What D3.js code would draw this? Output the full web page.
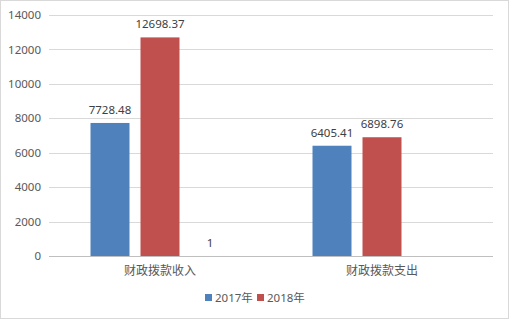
<!DOCTYPE html>
<html>
<head>
<meta charset="utf-8">
<script src="https://cdn.jsdelivr.net/npm/d3@7"></script>
<style>
  body { margin: 0; background: #fff; }
  svg { display: block; }
</style>
</head>
<body>
<script>
const categories = ['财政拨款收入', '财政拨款支出'];
const seriesNames = ['2017年', '2018年', ''];
const values2017 = [7728.48, 6405.41];
const values2018 = [12698.37, 6898.76];
const valuesExtra = [1, null]; // stray series without legend entry
const yTicks = [0, 2000, 4000, 6000, 8000, 10000, 12000, 14000];

const WIDTH = 509;
const HEIGHT = 319;
const FONT = '"Noto Sans", "Noto Sans CJK SC", sans-serif';
const colors = ['#4F81BD', '#C0504D', '#9BBB59'];

const allSeries = [values2017, values2018, valuesExtra];

const svg = d3.select('body').append('svg')
  .attr('width', WIDTH)
  .attr('height', HEIGHT);

svg.append('rect')
  .attr('x', 0.5).attr('y', 0.5)
  .attr('width', WIDTH - 1).attr('height', HEIGHT - 1)
  .attr('fill', '#fff')
  .attr('stroke', '#d9d9d9');

const x = d3.scaleBand()
  .domain(categories)
  .range([49, 493]);

const xInner = d3.scaleBand()
  .domain(d3.range(allSeries.length))
  .range([0, x.bandwidth()])
  .paddingInner(0.22)
  .paddingOuter(0.83);

const y = d3.scaleLinear()
  .domain([0, 14000])
  .range([256, 15]);

// gridlines
svg.append('g')
  .selectAll('line')
  .data(yTicks)
  .enter()
  .append('line')
  .attr('x1', 49).attr('x2', 493)
  .attr('y1', d => Math.round(y(d)) + 0.5)
  .attr('y2', d => Math.round(y(d)) + 0.5)
  .attr('stroke', d => d === 0 ? '#bfbfbf' : '#d9d9d9');

// y axis labels
const axisY = d3.axisLeft(y).tickValues(yTicks).tickFormat(d3.format('d')).tickSize(0).tickPadding(8);
const gy = svg.append('g')
  .attr('transform', 'translate(49,0)')
  .call(axisY);
gy.select('.domain').remove();
gy.selectAll('text')
  .attr('font-family', FONT)
  .attr('font-size', 11.5)
  .attr('fill', '#595959');

// bars
const rows = [];
allSeries.forEach((vals, s) => {
  vals.forEach((v, i) => {
    if (v !== null) rows.push({ s: s, cat: categories[i], v: v });
  });
});

svg.append('g')
  .selectAll('rect')
  .data(rows)
  .enter()
  .append('rect')
  .attr('x', d => x(d.cat) + xInner(d.s))
  .attr('width', xInner.bandwidth())
  .attr('y', d => y(d.v))
  .attr('height', d => y(0) - y(d.v))
  .attr('fill', d => colors[d.s]);

svg.append('g')
  .selectAll('text')
  .data(rows)
  .enter()
  .append('text')
  .attr('x', d => x(d.cat) + xInner(d.s) + xInner.bandwidth() / 2)
  .attr('y', d => y(d.v) - 9)
  .attr('text-anchor', 'middle')
  .attr('font-family', FONT)
  .attr('font-size', 11.5)
  .attr('fill', '#404040')
  .text(d => d.v);

// category labels
svg.append('g')
  .selectAll('text')
  .data(categories)
  .enter()
  .append('text')
  .attr('x', d => x(d) + x.bandwidth() / 2)
  .attr('y', 275)
  .attr('text-anchor', 'middle')
  .attr('font-family', FONT)
  .attr('font-size', 12)
  .attr('fill', '#595959')
  .text(d => d);

// legend
const legend = svg.append('g').attr('transform', 'translate(205,302)');
const legendItems = [0, 1];
const item = legend.selectAll('g')
  .data(legendItems)
  .enter()
  .append('g')
  .attr('transform', (d, i) => `translate(${i * 52},0)`);
item.append('rect')
  .attr('x', 0).attr('y', -8)
  .attr('width', 7).attr('height', 7)
  .attr('fill', d => colors[d]);
item.append('text')
  .attr('x', 10).attr('y', 0)
  .attr('font-family', FONT)
  .attr('font-size', 11.5)
  .attr('fill', '#595959')
  .text(d => seriesNames[d]);
</script>
</body>
</html>
